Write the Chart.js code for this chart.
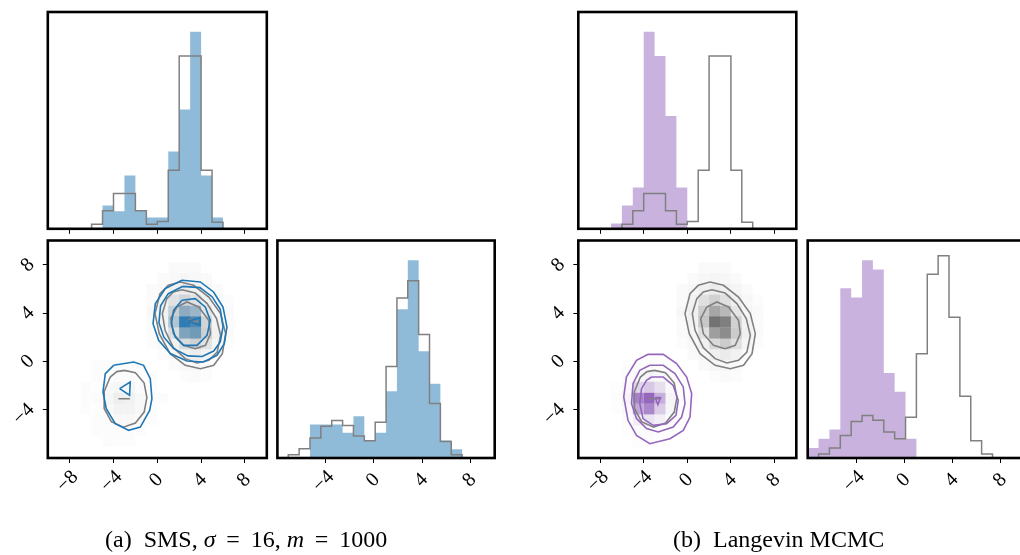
<!DOCTYPE html>
<html lang="en">
<head>
  <meta charset="UTF-8" />
  <title>Corner plots: SMS vs Langevin MCMC</title>
  <script src="https://cdn.jsdelivr.net/npm/chart.js"></script>
  <style>
    body {
      margin: 0;
      width: 1020px;
      height: 555px;
      overflow: hidden;
      position: relative;
      background: #fff;
      font-family: 'Liberation Serif', 'Times New Roman', serif;
      color: #000;
    }
    canvas { position: absolute; }
    .cap {
      position: absolute;
      top: 524px;
      font-size: 24px;
      line-height: 30px;
      white-space: nowrap;
    }
    .cap .eq { margin: 0 0.45em; }
  </style>
</head>
<body>
  <canvas id="a1"></canvas>
  <canvas id="a2"></canvas>
  <canvas id="a3"></canvas>
  <canvas id="b1"></canvas>
  <canvas id="b2"></canvas>
  <canvas id="b3"></canvas>
  <div class="cap" style="left:105px">(a)&nbsp; SMS, <i>σ</i><span class="eq">=</span>16, <i>m</i><span class="eq">=</span>1000</div>
  <div class="cap" style="left:673px">(b)&nbsp; Langevin MCMC</div>

  <script>
    // ---- histogram bins ----
    const topEdges = [-10, -9, -8, -7, -6, -5, -4, -3, -2, -1, 0, 1, 2, 3, 4, 5, 6, 7, 8, 9, 10];
    const botEdges = [-8, -7.1, -6.2, -5.3, -4.4, -3.5, -2.6, -1.7, -0.8, 0.1, 1, 1.9, 2.8, 3.7, 4.6, 5.5, 6.4, 7.3, 8.2, 9.1, 10];

    // first coordinate (top panels)
    const trueTop = [0, 0, 0, 0, 14, 54, 106, 106, 54, 14, 22, 176, 519, 519, 176, 20, 0, 0, 0, 0];
    const smsTop  = [0, 0, 0, 0, 0, 70, 53, 160, 54, 34, 34, 232, 358, 592, 160, 34, 0, 0, 0, 0];
    const langTop = [0, 0, 0, 16, 70, 124, 592, 519, 339, 124, 0, 0, 0, 0, 0, 0, 0, 0, 0, 0];

    // second coordinate (bottom-right panels)
    const trueBotA = [0, 10, 28, 60, 96, 113, 98, 66, 52, 108, 276, 482, 534, 372, 164, 50, 10, 0, 0, 0];
    const smsBot   = [0, 0, 0, 101, 101, 101, 76, 126, 52, 76, 201, 448, 596, 322, 224, 53, 26, 0, 0, 0];
    const trueBotB = [0, 12, 30, 68, 110, 128, 114, 78, 58, 123, 314, 554, 610, 424, 186, 52, 12, 0, 0, 0];
    const langBot  = [30, 58, 86, 512, 484, 596, 568, 256, 200, 58, 0, 0, 0, 0, 0, 0, 0, 0, 0, 0];

    // ticks
    const xTicks = [-8, -4, 0, 4, 8];
    const yTicks = [-4, 0, 4, 8];
    const x2Ticks = [-4, 0, 4, 8];

    // ---- 2D histogram cells (intensity 0..1) ----
    const upCols = [-0.5, 0.5, 1.5, 2.5, 3.5, 4.5, 5.5, 6.5];
    const upRows = [7.75, 6.85, 5.95, 5.05, 4.15, 3.25, 2.35, 1.45, 0.55, -0.35, -1.25];
    const trueUpGrid = [
      [0, 0, 0.02, 0.02, 0.02, 0, 0, 0],
      [0, 0.02, 0.03, 0.04, 0.03, 0.02, 0, 0],
      [0.02, 0.03, 0.06, 0.08, 0.06, 0.04, 0.02, 0],
      [0.02, 0.05, 0.12, 0.18, 0.12, 0.06, 0.03, 0.01],
      [0.03, 0.06, 0.2, 0.35, 0.28, 0.1, 0.04, 0.02],
      [0.02, 0.05, 0.22, 0.55, 0.5, 0.18, 0.05, 0.02],
      [0.02, 0.04, 0.12, 0.38, 0.45, 0.2, 0.06, 0.02],
      [0.01, 0.03, 0.06, 0.15, 0.2, 0.12, 0.04, 0.01],
      [0, 0.02, 0.03, 0.06, 0.08, 0.05, 0.02, 0],
      [0, 0, 0.02, 0.03, 0.03, 0.02, 0, 0],
      [0, 0, 0, 0.01, 0.02, 0.01, 0, 0]
    ];
    const smsUpGrid = [
      [0, 0, 0, 0, 0, 0, 0, 0],
      [0, 0, 0.02, 0.03, 0.02, 0, 0, 0],
      [0, 0.02, 0.05, 0.08, 0.06, 0.03, 0, 0],
      [0.01, 0.04, 0.12, 0.22, 0.16, 0.06, 0.02, 0],
      [0.02, 0.06, 0.3, 0.6, 0.55, 0.15, 0.03, 0],
      [0.02, 0.06, 0.45, 0.95, 0.85, 0.25, 0.04, 0.01],
      [0.01, 0.05, 0.25, 0.65, 0.7, 0.22, 0.04, 0],
      [0, 0.03, 0.08, 0.2, 0.22, 0.1, 0.02, 0],
      [0, 0.01, 0.03, 0.06, 0.06, 0.03, 0.01, 0],
      [0, 0, 0.01, 0.02, 0.02, 0.01, 0, 0],
      [0, 0, 0, 0, 0, 0, 0, 0]
    ];

    const lowCols = [-7.5, -6.5, -5.5, -4.5, -3.5, -2.5, -1.5, -0.5, 0.5];
    const lowRows = [0.55, -0.35, -1.25, -2.15, -3.05, -3.95, -4.85, -5.75, -6.65, -7.55];
    const trueLowGrid = [
      [0, 0, 0, 0, 0, 0, 0, 0, 0],
      [0, 0, 0.01, 0.01, 0.01, 0.01, 0.01, 0, 0],
      [0, 0, 0.01, 0.01, 0.02, 0.02, 0.01, 0.01, 0],
      [0, 0.01, 0.01, 0.03, 0.04, 0.04, 0.02, 0.01, 0],
      [0, 0.01, 0.02, 0.04, 0.07, 0.06, 0.03, 0.01, 0.01],
      [0, 0.01, 0.01, 0.03, 0.05, 0.05, 0.03, 0.01, 0],
      [0, 0, 0.01, 0.02, 0.03, 0.03, 0.02, 0.01, 0],
      [0, 0, 0.01, 0.01, 0.01, 0.01, 0.01, 0, 0],
      [0, 0, 0, 0.01, 0.01, 0.01, 0, 0, 0],
      [0, 0, 0, 0, 0, 0, 0, 0, 0]
    ];
    const smsLowGrid = [
      [0, 0, 0, 0, 0, 0, 0, 0, 0],
      [0, 0, 0, 0, 0, 0, 0, 0, 0],
      [0, 0, 0, 0.02, 0.03, 0.02, 0, 0, 0],
      [0, 0, 0.01, 0.04, 0.06, 0.04, 0.01, 0, 0],
      [0, 0, 0.02, 0.05, 0.08, 0.05, 0.02, 0, 0],
      [0, 0, 0.01, 0.04, 0.06, 0.04, 0.01, 0, 0],
      [0, 0, 0, 0.02, 0.03, 0.02, 0, 0, 0],
      [0, 0, 0, 0, 0, 0, 0, 0, 0],
      [0, 0, 0, 0, 0, 0, 0, 0, 0],
      [0, 0, 0, 0, 0, 0, 0, 0, 0]
    ];
    const langLowGrid = [
      [0, 0, 0.02, 0.03, 0.03, 0.02, 0, 0, 0],
      [0, 0.02, 0.05, 0.08, 0.1, 0.06, 0.03, 0, 0],
      [0, 0.03, 0.1, 0.2, 0.25, 0.16, 0.06, 0.02, 0],
      [0.02, 0.05, 0.18, 0.5, 0.58, 0.42, 0.12, 0.03, 0],
      [0.02, 0.06, 0.25, 0.9, 1.0, 0.7, 0.16, 0.04, 0],
      [0.02, 0.05, 0.2, 0.75, 0.88, 0.55, 0.13, 0.03, 0],
      [0, 0.03, 0.1, 0.32, 0.4, 0.24, 0.07, 0.02, 0],
      [0, 0.02, 0.05, 0.12, 0.15, 0.09, 0.03, 0, 0],
      [0, 0, 0.02, 0.05, 0.06, 0.03, 0.02, 0, 0],
      [0, 0, 0, 0.02, 0.02, 0.01, 0, 0, 0]
    ];

    // ---- contour lines (data units) ----
    const trueUp2 = [[2.09, 6.56], [3.32, 6.29], [4.7, 5.32], [5.78, 3.95], [6.24, 2.29], [5.94, 0.64], [5.16, -0.33], [3.94, -0.61], [2.55, -0.33], [1.17, 0.64], [0.18, 2.29], [-0.21, 3.95], [0.25, 5.6], [1.01, 6.29]];
    const trueUp15 = [[2.25, 5.93], [3.47, 5.65], [4.55, 4.78], [5.41, 3.53], [5.78, 2.15], [5.47, 0.77], [4.7, 0.08], [3.63, -0.14], [2.55, 0.22], [1.47, 1.13], [0.71, 2.57], [0.46, 3.95], [0.87, 5.19], [1.47, 5.74]];
    const trueUp1 = [[1.79, 4.5], [2.71, 4.91], [3.78, 4.5], [4.7, 3.39], [4.86, 2.29], [4.4, 1.32], [3.47, 1.05], [2.4, 1.32], [1.47, 2.29], [1.23, 3.53]];
    const trueUpCore = [[2.7, 3.35], [3.2, 3.5], [3.65, 3.3], [3.2, 3.15]];
    const trueLow = [[-3.0, -0.75], [-2.0, -0.95], [-1.2, -1.8], [-0.95, -3.0], [-1.2, -4.2], [-2.0, -5.1], [-3.1, -5.45], [-4.2, -5.0], [-4.85, -3.9], [-4.85, -2.5], [-4.3, -1.3], [-3.7, -0.85]];
    const trueLowCore = [[-3.55, -3.1], [-2.5, -3.1]];

    const smsUp2 = [[2.25, 6.71], [3.93, 6.57], [5.14, 5.74], [6.0, 4.5], [6.36, 2.84], [6.12, 1.46], [5.45, 0.5], [4.23, -0.05], [2.71, 0.03], [1.19, 0.64], [0.12, 1.74], [-0.39, 3.12], [-0.18, 4.78], [0.73, 6.02]];
    const smsUp15 = [[2.3, 6.2], [3.9, 6.1], [5.0, 5.35], [5.75, 4.3], [6.0, 2.85], [5.75, 1.6], [5.15, 0.85], [4.1, 0.4], [2.8, 0.45], [1.5, 1.05], [0.6, 2.0], [0.15, 3.2], [0.3, 4.6], [1.0, 5.6]];
    const smsUp1 = [[2.25, 5.05], [3.47, 5.19], [4.38, 4.5], [4.84, 3.39], [4.54, 2.15], [3.62, 1.32], [2.4, 1.32], [1.64, 2.01], [1.28, 3.12], [1.49, 4.22]];
    const smsUpCore = [[2.75, 3.3], [3.9, 3.6], [3.9, 3.0]];
    const smsLow = [[-3.99, -0.33], [-2.16, -0.06], [-1.25, -0.33], [-0.64, -1.43], [-0.49, -3.09], [-0.7, -4.06], [-1.55, -5.44], [-2.62, -5.71], [-3.84, -5.16], [-4.66, -3.92], [-4.96, -2.54], [-4.75, -1.02]];
    const smsLowCore = [[-3.44, -2.26], [-2.47, -1.71], [-2.53, -2.81]];

    const langLow2 = [[-3.59, 0.58], [-2.21, 0.58], [-0.98, -0.19], [-0.06, -1.3], [0.4, -2.67], [0.25, -4.61], [-0.37, -5.71], [-1.59, -6.4], [-3.44, -6.82], [-4.66, -6.13], [-5.44, -4.88], [-5.83, -2.95], [-5.59, -1.3], [-4.66, 0.08]];
    const langLow15 = [[-3.44, -0.33], [-2.21, -0.33], [-1.13, -1.02], [-0.37, -2.12], [-0.21, -3.5], [-0.52, -4.61], [-1.29, -5.44], [-2.67, -5.85], [-3.74, -5.57], [-4.66, -4.74], [-5.12, -3.5], [-4.98, -1.85], [-4.36, -0.75]];
    const langLow1 = [[-3.28, -1.3], [-2.21, -1.3], [-1.29, -1.99], [-0.83, -3.23], [-1.04, -4.47], [-1.9, -5.16], [-3.13, -5.3], [-4.06, -4.74], [-4.36, -3.5], [-4.2, -2.26], [-3.74, -1.57]];
    const langLowCore = [[-2.95, -3.0], [-2.45, -3.0], [-2.7, -3.6]];

    // ---- styles / layout ----
    const GRAY = '#808080';
    const BLUE = '#1f77b4';
    const PURPLE = '#9467bd';
    const BLUE_RGB = [31, 119, 180];
    const PURPLE_RGB = [148, 103, 189];
    const FONT = { family: 'Liberation Serif', size: 20 };

    // panel boxes: left, top, width, height of the framed plot area
    const boxA1 = [47.8, 12, 219, 216.8];
    const boxA2 = [47.8, 240.5, 219, 217.5];
    const boxA3 = [277.4, 240.5, 217.3, 217.5];
    const boxB1 = [578.3, 12, 218, 216.8];
    const boxB2 = [578.3, 240.5, 218, 217.5];
    const boxB3 = [807.7, 240.5, 217.4, 217.5];

    const framePlugin = {
      id: 'frame',
      afterDraw(chart) {
        const { ctx, chartArea: a } = chart;
        ctx.save();
        ctx.lineWidth = 2.6;
        ctx.strokeStyle = '#000';
        ctx.strokeRect(a.left, a.top, a.right - a.left, a.bottom - a.top);
        ctx.restore();
      }
    };

    function place(id, box, padL, padB) {
      const c = document.getElementById(id);
      const left = Math.floor(box[0] - padL);
      const top = Math.floor(box[1] - 6);
      const offL = box[0] - left;
      const offT = box[1] - top;
      const w = Math.ceil(offL + box[2] + 6);
      const h = Math.ceil(offT + box[3] + padB);
      c.width = w;
      c.height = h;
      Object.assign(c.style, { left: left + 'px', top: top + 'px', width: w + 'px', height: h + 'px' });
      return { c, offL, offT, offR: w - offL - box[2], offB: h - offT - box[3] };
    }

    // matplotlib centres rotated x labels; the thin space evens out the right-aligned Chart.js labels
    function fmt(v, centred) {
      if (v < 0) return '\u2212' + (-v);
      return centred ? String(v) + '\u2009' : String(v);
    }

    function axis(min, max, ticks, o) {
      return {
        type: 'linear',
        min: min,
        max: max,
        afterBuildTicks: s => { s.ticks = ticks.map(v => ({ value: v })); },
        afterFit: s => {
          if (s.isHorizontal()) s.height = o.size; else s.width = o.size;
          s.paddingLeft = s.paddingRight = s.paddingTop = s.paddingBottom = 0;
        },
        border: { display: false },
        grid: { display: ticks.length > 0, drawOnChartArea: false, tickLength: 5, color: '#000', lineWidth: 1 },
        ticks: {
          display: !!o.labels,
          autoSkip: false,
          minRotation: 45,
          maxRotation: 45,
          font: FONT,
          color: '#000',
          padding: o.pad || 3,
          labelOffset: o.offset || 0,
          callback: v => fmt(v, o.centred)
        }
      };
    }

    const xAxisOpts = size => ({ size: size, labels: true, pad: 2.5, offset: 5.5, centred: true });

    function stepPoints(edges, counts) {
      const last = edges[edges.length - 1];
      const pts = [[edges[0], 0]];
      counts.forEach((c, i) => pts.push([edges[i], c]));
      pts.push([last, counts[counts.length - 1]]);
      pts.push([last, 0]);
      return pts;
    }

    function gridCells(cols, rows, vals) {
      const out = [];
      rows.forEach((y, r) => cols.forEach((x, c) => {
        if (vals[r][c] > 0) out.push([x, y, vals[r][c]]);
      }));
      return out;
    }

    function closed(pts) {
      return pts.concat([pts[0]]);
    }

    const baseOptions = p => ({
      responsive: false,
      animation: false,
      events: [],
      layout: { padding: { top: p.offT, right: p.offR, left: 0, bottom: 0 } },
      plugins: { legend: { display: false }, tooltip: { enabled: false } }
    });

    function histChart(id, box, edges, xmin, xmax, ticks, labels, fillCounts, fillColor, lineCounts) {
      const p = place(id, box, 6, labels ? 90 : 8);
      const ymax = 1.1 * Math.max(...fillCounts);
      const opts = baseOptions(p);
      opts.elements = { point: { radius: 0 }, line: { stepped: true, tension: 0 } };
      const xo = labels ? xAxisOpts(p.offB) : { size: p.offB };
      opts.scales = {
        x: axis(xmin, xmax, ticks, xo),
        y: axis(0, ymax, [], { size: p.offL })
      };
      new Chart(p.c, {
        type: 'line',
        data: {
          datasets: [
            { data: stepPoints(edges, lineCounts), borderColor: GRAY, borderWidth: 1.5, fill: false, order: 0 },
            { data: stepPoints(edges, fillCounts), borderColor: 'transparent', borderWidth: 0, backgroundColor: fillColor, fill: 'origin', order: 1 }
          ]
        },
        options: opts,
        plugins: [framePlugin]
      });
    }

    function cellRadius(chart) {
      const s = chart.scales.x;
      return Math.abs(s.getPixelForValue(1) - s.getPixelForValue(0)) * Math.SQRT1_2;
    }

    // colour map from transparent white to the series colour (as in corner's density map)
    function cellColor(rgb, t) {
      if (!rgb) return 'rgba(0,0,0,' + t + ')';
      const m = rgb.map(c => Math.round(255 * (1 - t) + c * t));
      return 'rgba(' + m.join(',') + ',' + t + ')';
    }

    function cellLayer(cells, rgb, order) {
      return {
        data: cells,
        showLine: false,
        pointStyle: 'rect',
        pointBorderWidth: 0,
        pointRadius: ctx => cellRadius(ctx.chart),
        pointBackgroundColor: ctx => ctx.raw ? cellColor(rgb, ctx.raw[2]) : 'transparent',
        order: order
      };
    }

    function contour(pts, color, order) {
      return {
        data: closed(pts),
        showLine: true,
        borderColor: color,
        borderWidth: 1.6,
        pointRadius: 0,
        fill: false,
        tension: 0,
        order: order
      };
    }

    function pairChart(id, box, datasets) {
      const p = place(id, box, box[0], 90);
      const opts = baseOptions(p);
      opts.scales = {
        x: axis(-10, 10, xTicks, xAxisOpts(p.offB)),
        y: axis(-8, 10, yTicks, { size: p.offL, labels: true, pad: 11.5, offset: -3 })
      };
      new Chart(p.c, {
        type: 'scatter',
        data: { datasets: datasets },
        options: opts,
        plugins: [framePlugin]
      });
    }

    // ---- (a) SMS ----
    histChart('a1', boxA1, topEdges, -10, 10, xTicks, false, smsTop, 'rgba(31,119,180,0.5)', trueTop);
    pairChart('a2', boxA2, [
      cellLayer(gridCells(upCols, upRows, trueUpGrid), null, 6),
      cellLayer(gridCells(lowCols, lowRows, trueLowGrid), null, 6),
      cellLayer(gridCells(upCols, upRows, smsUpGrid), BLUE_RGB, 5),
      cellLayer(gridCells(lowCols, lowRows, smsLowGrid), BLUE_RGB, 5),
      contour(trueUp2, GRAY, 1), contour(trueUp15, GRAY, 1), contour(trueUp1, GRAY, 1),
      contour(trueUpCore, GRAY, 1), contour(trueLow, GRAY, 1), contour(trueLowCore, GRAY, 1),
      contour(smsUp2, BLUE, 0), contour(smsUp15, BLUE, 0), contour(smsUp1, BLUE, 0),
      contour(smsUpCore, BLUE, 0), contour(smsLow, BLUE, 0), contour(smsLowCore, BLUE, 0)
    ]);
    histChart('a3', boxA3, botEdges, -8, 10, x2Ticks, true, smsBot, 'rgba(31,119,180,0.5)', trueBotA);

    // ---- (b) Langevin MCMC ----
    histChart('b1', boxB1, topEdges, -10, 10, xTicks, false, langTop, 'rgba(148,103,189,0.5)', trueTop);
    pairChart('b2', boxB2, [
      cellLayer(gridCells(upCols, upRows, trueUpGrid), null, 6),
      cellLayer(gridCells(lowCols, lowRows, trueLowGrid), null, 6),
      cellLayer(gridCells(lowCols, lowRows, langLowGrid), PURPLE_RGB, 5),
      contour(trueUp2, GRAY, 1), contour(trueUp15, GRAY, 1), contour(trueUp1, GRAY, 1),
      contour(trueLow, GRAY, 1), contour(trueLowCore, GRAY, 1),
      contour(langLow2, PURPLE, 0), contour(langLow15, PURPLE, 0), contour(langLow1, PURPLE, 0),
      contour(langLowCore, PURPLE, 0)
    ]);
    histChart('b3', boxB3, botEdges, -8, 10, x2Ticks, true, langBot, 'rgba(148,103,189,0.5)', trueBotB);
  </script>
</body>
</html>
